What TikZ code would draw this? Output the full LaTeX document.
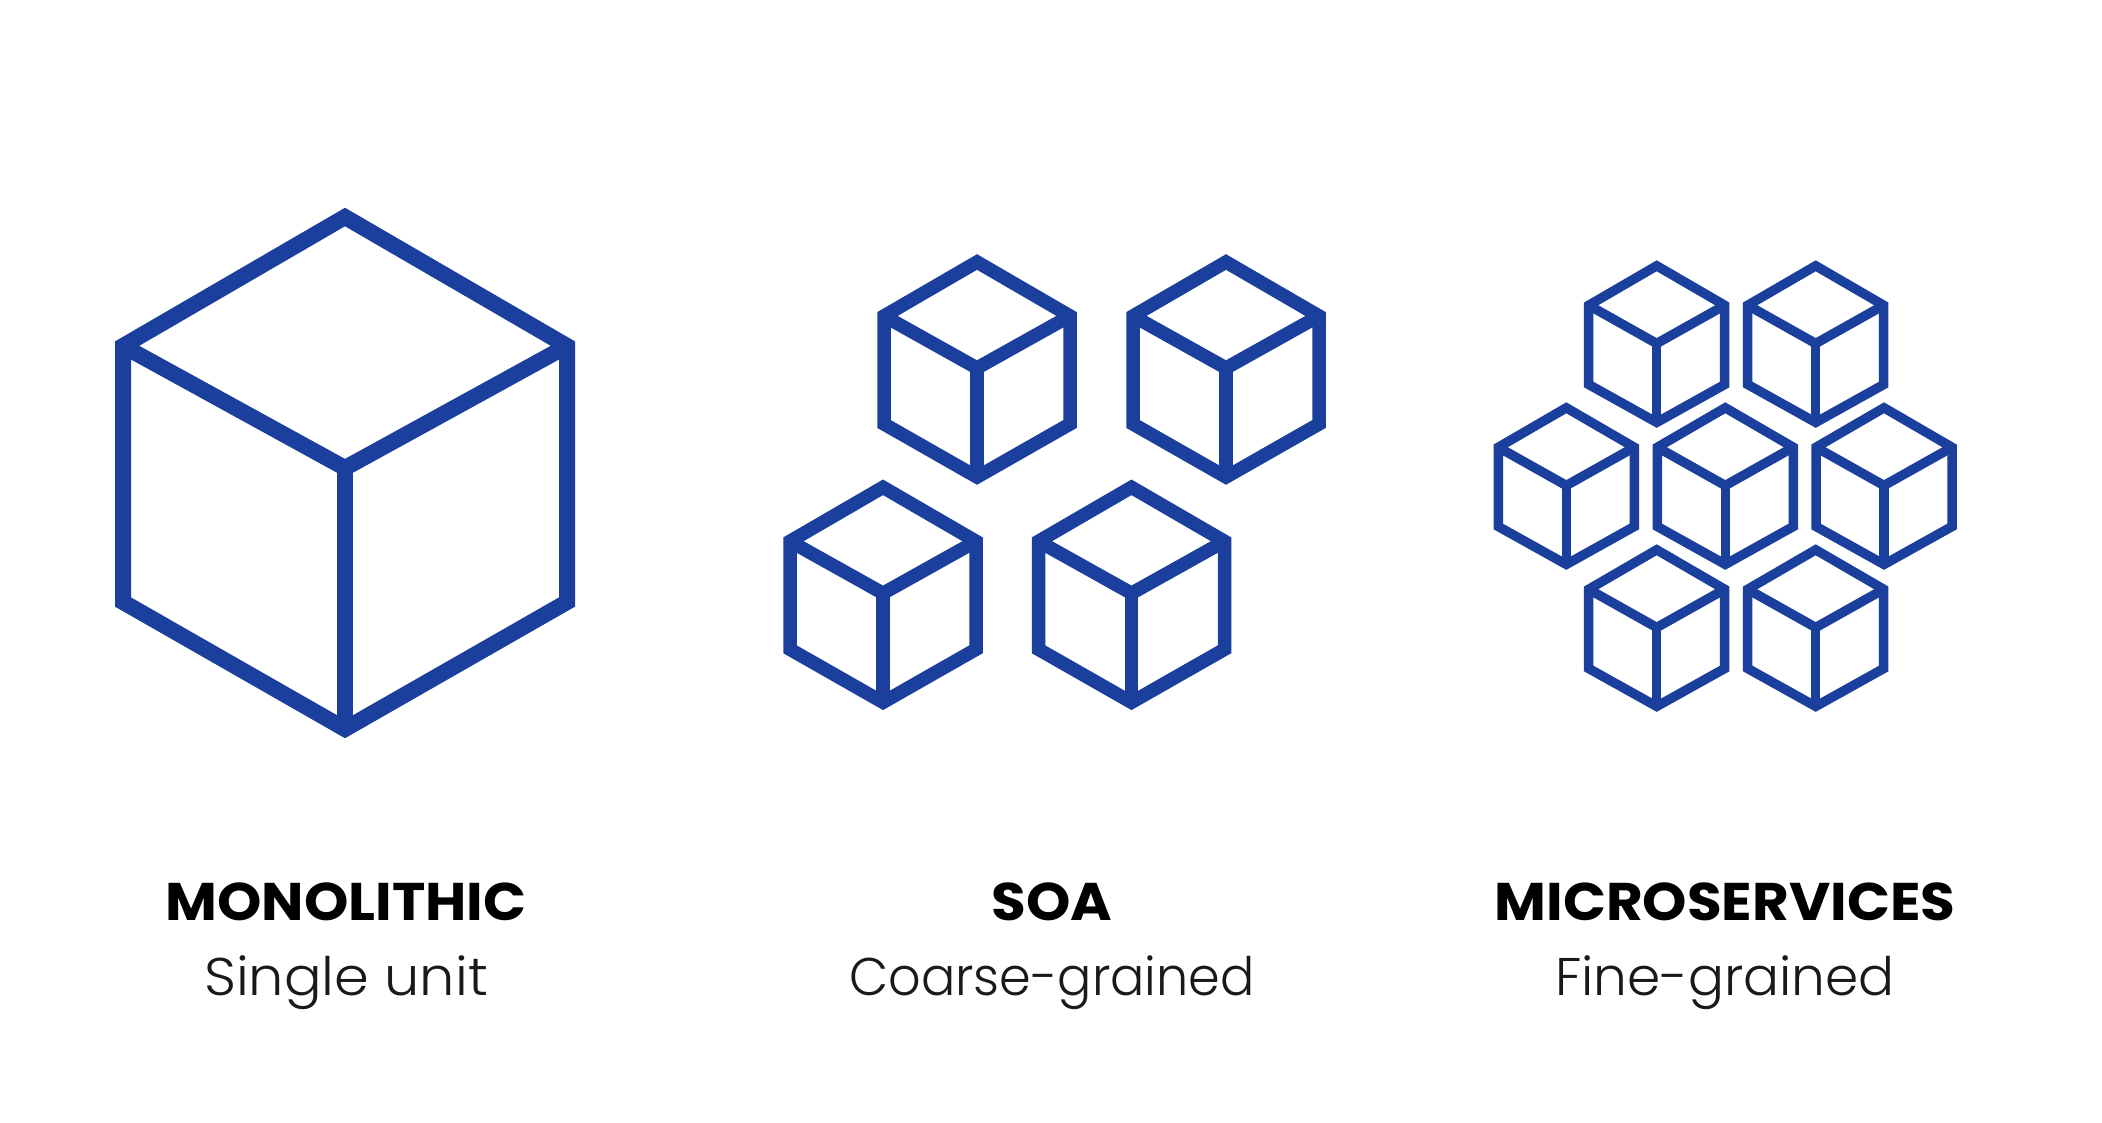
\documentclass[tikz,border=0pt]{standalone}
\usepackage{fontspec}
\setmainfont{Poppins}[UprightFont=* Light,BoldFont=* Bold,BoldFeatures={FakeStretch=1.065}]
\definecolor{cubeblue}{HTML}{1A3F9C}
\newcommand{\cubeicon}[7]{%
  \draw[cubeline] ({#1-#3},{#2+#4}) -- ({#1},{#2}) -- ({#1+#3},{#2+#4}) -- ({#1+#3},{#2+#6}) -- ({#1},{#2+#7}) -- ({#1-#3},{#2+#6}) -- cycle;
  \draw[cubeline] ({#1-#3},{#2+#4}) -- ({#1},{#2+#5}) -- ({#1+#3},{#2+#4});
  \draw[cubeline] ({#1},{#2+#5}) -- ({#1},{#2+#7});
}
\newcommand{\bigcube}[2]{\cubeicon{#1}{#2}{222}{129}{251}{385}{512}}
\newcommand{\midcube}[2]{\cubeicon{#1}{#2}{93}{54}{106}{162}{215}}
\newcommand{\smallcube}[2]{\cubeicon{#1}{#2}{68}{39.5}{77.7}{118.7}{156.6}}
\tikzset{
  cubeline/.style={draw=cubeblue,line join=miter},
  titletext/.style={anchor=base,inner sep=0pt,font=\bfseries\fontsize{53}{64}\selectfont,text=black},
  subtext/.style={anchor=base,inner sep=0pt,font=\fontsize{53}{64}\selectfont,text=black!90}
}
\begin{document}
\begin{tikzpicture}[x=1pt,y=-1pt]
\useasboundingbox (0,0) rectangle (2102,1122);
\fill[white] (0,0) rectangle (2102,1122);
\begin{scope}[line width=16pt]
\bigcube{345}{217}
\end{scope}
\begin{scope}[line width=13.5pt]
\midcube{977}{262}
\midcube{1226}{262}
\midcube{883}{487.3}
\midcube{1131.5}{487.3}
\end{scope}
\begin{scope}[line width=9.5pt]
\smallcube{1656.7}{265.8}
\smallcube{1815.7}{265.8}
\smallcube{1566.3}{407.8}
\smallcube{1725.3}{407.8}
\smallcube{1884}{407.8}
\smallcube{1656.7}{549.8}
\smallcube{1815.7}{549.8}
\end{scope}
\node[titletext] (t1) at (346,920) {MONOLITHIC};
\node[titletext] (t2) at (1052,920) {SOA};
\node[titletext] (t3) at (1725,920) {MICROSERVICES};
\node[subtext] (s1) at (346,995) {\scalebox{1.053}[1]{Single unit}};
\node[subtext] (s2) at (1052,995) {\scalebox{0.96}[1]{Coarse-grained}};
\node[subtext] (s3) at (1725,995) {\scalebox{1.007}[1]{Fine-grained}};
\end{tikzpicture}
\end{document}
